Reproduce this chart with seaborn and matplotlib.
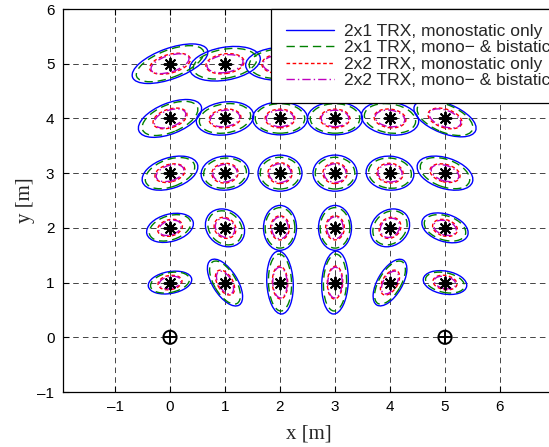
import numpy as np
import pandas as pd
import seaborn as sns
import matplotlib.pyplot as plt
from matplotlib.patches import Ellipse
from matplotlib.lines import Line2D

# grid of target positions (rows y=1..5, columns x=0..5)
xs = [0, 1, 2, 3, 4, 5]
ys = [1, 2, 3, 4, 5]
anchor_x = [0, 5]
anchor_y = [0, 0]

# error ellipses: full width, full height [m], angle [deg]; one row per y
blue_w = [[0.80, 0.97, 1.15, 1.15, 0.95, 0.80],
          [0.87, 0.76, 0.82, 0.82, 0.76, 0.87],
          [1.05, 0.87, 0.80, 0.80, 0.87, 1.05],
          [1.22, 1.05, 1.00, 1.00, 1.05, 1.20],
          [1.45, 1.30, 1.25, 1.25, 1.30, 1.45]]
blue_h = [[0.40, 0.45, 0.48, 0.48, 0.45, 0.42],
          [0.50, 0.64, 0.60, 0.60, 0.64, 0.50],
          [0.56, 0.62, 0.66, 0.66, 0.62, 0.56],
          [0.56, 0.60, 0.60, 0.60, 0.60, 0.54],
          [0.56, 0.60, 0.60, 0.60, 0.60, 0.56]]
blue_a = [[10, -58, 93, 87, 60, -10],
          [15, -40, 90, 90, 40, -18],
          [18, 5, 0, 0, -5, -18],
          [22, 8, 0, 0, -8, -22],
          [20, 10, 3, -3, -10, -20]]

green_w = [[0.72, 0.88, 1.04, 1.04, 0.88, 0.72],
           [0.78, 0.68, 0.74, 0.74, 0.68, 0.78],
           [0.94, 0.78, 0.72, 0.72, 0.78, 0.94],
           [1.08, 0.94, 0.90, 0.90, 0.94, 1.08],
           [1.30, 1.17, 1.12, 1.12, 1.17, 1.30]]
green_h = [[0.36, 0.40, 0.42, 0.42, 0.40, 0.36],
           [0.44, 0.56, 0.54, 0.54, 0.56, 0.44],
           [0.50, 0.55, 0.58, 0.58, 0.55, 0.50],
           [0.50, 0.53, 0.54, 0.54, 0.53, 0.50],
           [0.50, 0.53, 0.54, 0.54, 0.53, 0.50]]
green_a = [[12, -60, 92, 88, 60, -12],
           [18, -45, 90, 90, 45, -18],
           [20, 6, 0, 0, -6, -20],
           [23, 9, 0, 0, -9, -23],
           [21, 10, 3, -3, -10, -21]]

red_w = [[0.44, 0.50, 0.60, 0.60, 0.50, 0.44],
         [0.46, 0.42, 0.44, 0.44, 0.42, 0.46],
         [0.56, 0.48, 0.44, 0.44, 0.48, 0.56],
         [0.64, 0.58, 0.54, 0.54, 0.58, 0.64],
         [0.76, 0.70, 0.66, 0.66, 0.70, 0.76]]
red_h = [[0.26, 0.28, 0.28, 0.28, 0.28, 0.26],
         [0.30, 0.36, 0.34, 0.34, 0.36, 0.30],
         [0.32, 0.36, 0.38, 0.38, 0.36, 0.32],
         [0.34, 0.34, 0.34, 0.34, 0.34, 0.34],
         [0.34, 0.36, 0.36, 0.36, 0.36, 0.34]]
red_a = [[10, -60, 92, 88, 60, -10],
         [15, -40, 90, 90, 40, -15],
         [15, 5, 0, 0, -5, -15],
         [18, 7, 0, 0, -7, -18],
         [15, 8, 2, -2, -8, -15]]

purple_w = [[0.40, 0.46, 0.56, 0.56, 0.46, 0.40],
            [0.42, 0.38, 0.40, 0.40, 0.38, 0.42],
            [0.52, 0.44, 0.40, 0.40, 0.44, 0.52],
            [0.60, 0.54, 0.50, 0.50, 0.54, 0.60],
            [0.72, 0.66, 0.62, 0.62, 0.66, 0.72]]
purple_h = [[0.22, 0.24, 0.26, 0.26, 0.24, 0.22],
            [0.26, 0.32, 0.30, 0.30, 0.32, 0.26],
            [0.28, 0.32, 0.34, 0.34, 0.32, 0.28],
            [0.30, 0.30, 0.30, 0.30, 0.30, 0.30],
            [0.30, 0.32, 0.32, 0.32, 0.32, 0.32]]
purple_a = [[12, -60, 92, 88, 60, -12],
            [18, -45, 90, 90, 45, -18],
            [18, 6, 0, 0, -6, -18],
            [20, 8, 0, 0, -8, -20],
            [18, 9, 2, -2, -9, -18]]

labels = ["2x1 TRX, monostatic only", "2x1 TRX, mono\u2212 & bistatic",
          "2x2 TRX, monostatic only", "2x2 TRX, mono\u2212 & bistatic"]

series = [
    (blue_w, blue_h, blue_a, "#0000ff", "-"),
    (green_w, green_h, green_a, "#008000", (0, (6, 3.5))),
    (red_w, red_h, red_a, "#ff0000", (0, (2.6, 1.8))),
    (purple_w, purple_h, purple_a, "#bf00bf", (0, (6, 2.2, 1, 2.2))),
]

sns.set_theme(style="white")
plt.rcParams["font.family"] = ["Liberation Sans", "DejaVu Sans"]
plt.rcParams["lines.scale_dashes"] = False

fig = plt.figure(figsize=(5.49, 4.47), dpi=100)
ax = fig.add_axes([62.75 / 549, 55 / 447, 492.25 / 549, 383 / 447])

for w, h, a, col, ls in series:
    for i, yv in enumerate(ys):
        for j, xv in enumerate(xs):
            ax.add_patch(Ellipse((xv, yv), w[i][j], h[i][j], angle=a[i][j],
                                 fill=False, edgecolor=col, linestyle=ls,
                                 linewidth=1.0, zorder=3))

pts = pd.DataFrame([(xv, yv) for yv in ys for xv in xs], columns=["x", "y"])
sns.scatterplot(data=pts, x="x", y="y", marker=(8, 2, 0), s=75, color="black",
                linewidth=1.4, ax=ax, zorder=5, legend=False)
anc = pd.DataFrame({"x": anchor_x, "y": anchor_y})
sns.scatterplot(data=anc, x="x", y="y", marker="o", s=90, facecolor="none",
                edgecolor="black", linewidth=1.4, ax=ax, zorder=5, legend=False)
sns.scatterplot(data=anc, x="x", y="y", marker="+", s=90, color="black",
                linewidth=1.4, ax=ax, zorder=5, legend=False)

ax.set_xlim(-1.95, 7)
ax.set_ylim(-1, 6)
ax.set_xticks(range(-1, 7))
ax.set_yticks(range(-1, 7))
ax.set_xticklabels([str(v).replace("-", "\u2013") for v in range(-1, 7)])
ax.set_yticklabels([str(v).replace("-", "\u2013") for v in range(-1, 7)])
ax.tick_params(direction="in", length=4, width=0.8, top=True, right=True,
               bottom=True, left=True, labelsize=11, colors="black", pad=6)
ax.grid(True, color="black", linestyle=(0, (4, 3)), linewidth=0.6, alpha=0.85)
for sp in ax.spines.values():
    sp.set_color("black")
    sp.set_linewidth(0.9)

ax.set_xlabel("x [m]", family=["Liberation Serif"], fontsize=15, labelpad=7)
ax.set_ylabel("y [m]", family=["Liberation Serif"], fontsize=15, labelpad=2)

handles = [Line2D([], [], color=col, linestyle=ls, linewidth=1.0)
           for _, _, _, col, ls in series]
leg = fig.legend(handles, labels, loc="upper left",
                 bbox_to_anchor=(271 / 549, 1 - 9 / 447), fontsize=12.5,
                 handlelength=2.8, handletextpad=0.55, labelspacing=0.07,
                 borderpad=0.85, borderaxespad=0, frameon=True, fancybox=False)
leg.get_frame().set_edgecolor("black")
leg.get_frame().set_linewidth(0.9)
leg.get_frame().set_alpha(1)

fig.savefig("out.png", dpi=100)
